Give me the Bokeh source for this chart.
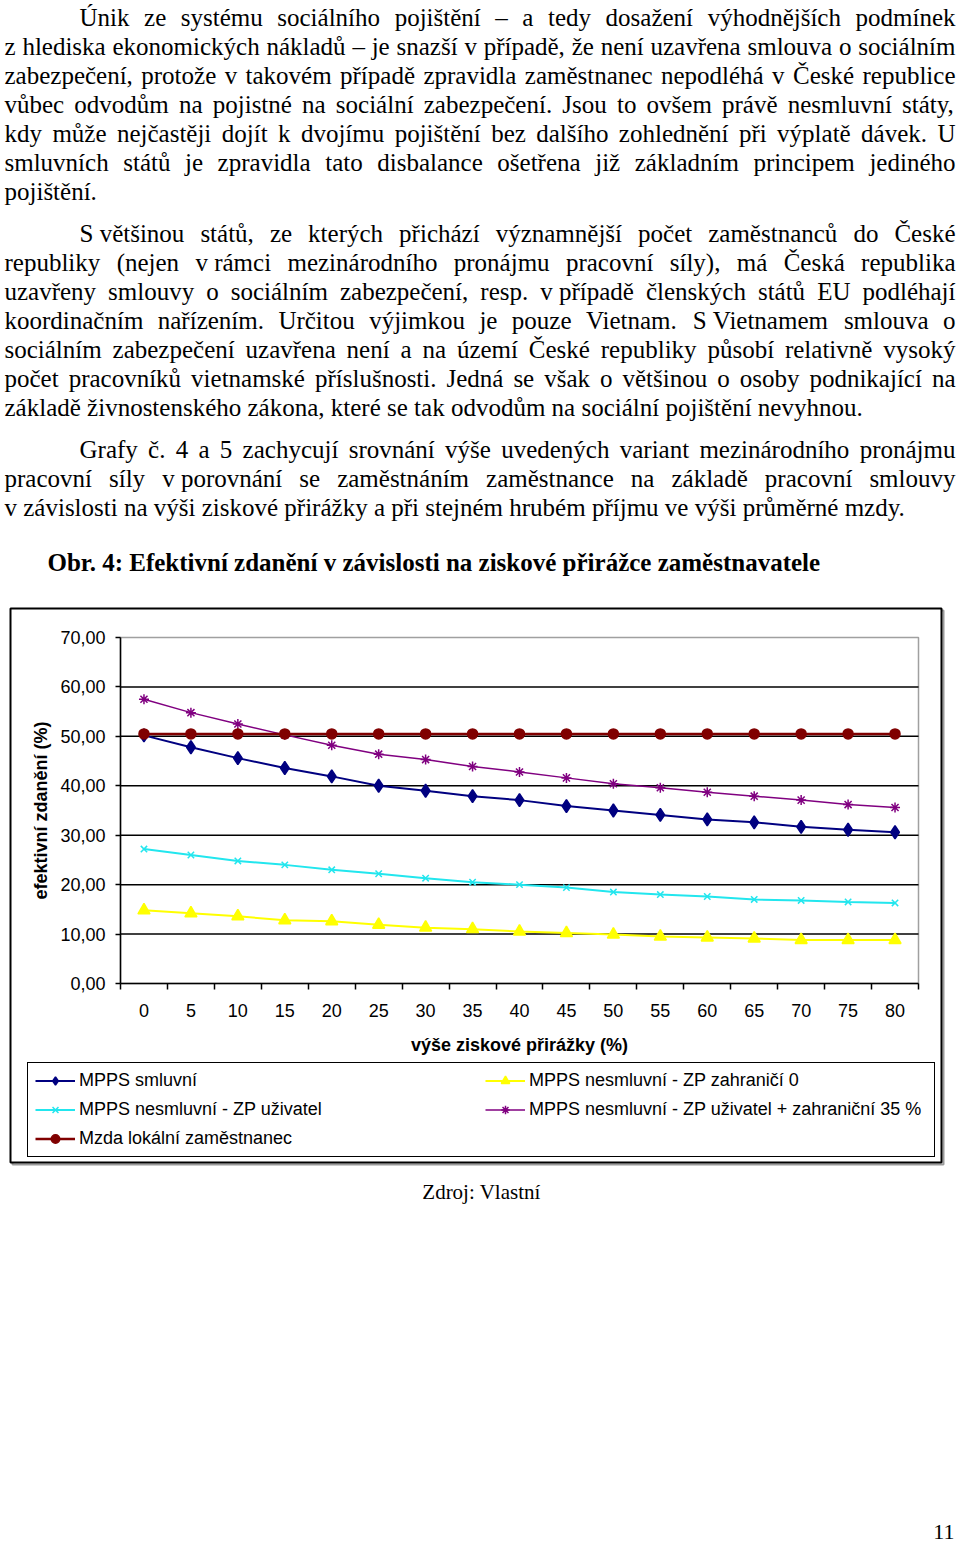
import unicodedata
from bokeh.plotting import figure
from bokeh.models import (ColumnDataSource, LabelSet, Label, Legend, LegendItem, FixedTicker,
                          Range1d, LinearAxis, BoxAnnotation)
from bokeh.embed import file_html
from bokeh.resources import INLINE
from bokeh.core.properties import value

# ---------------- data ----------------
margin_pct = [0, 5, 10, 15, 20, 25, 30, 35, 40, 45, 50, 55, 60, 65, 70, 75, 80]
y_ticks = [0, 10, 20, 30, 40, 50, 60, 70]
y_tick_labels = ["0,00", "10,00", "20,00", "30,00", "40,00", "50,00", "60,00", "70,00"]

mpps_smluvni = [50.2, 47.8, 45.6, 43.6, 41.9, 40.0, 39.0, 37.9, 37.1, 35.9, 35.0, 34.1, 33.2, 32.6, 31.7, 31.1, 30.6]
mpps_zahranici0 = [14.8, 14.2, 13.6, 12.8, 12.6, 11.9, 11.3, 11.0, 10.5, 10.2, 9.9, 9.5, 9.3, 9.1, 8.8, 8.8, 8.8]
mpps_uzivatel = [27.2, 26.0, 24.8, 24.0, 23.0, 22.2, 21.3, 20.5, 20.0, 19.4, 18.5, 18.0, 17.6, 17.0, 16.8, 16.5, 16.3]
mpps_uzivatel_35 = [57.5, 54.8, 52.5, 50.3, 48.2, 46.4, 45.3, 43.9, 42.8, 41.6, 40.4, 39.6, 38.7, 37.9, 37.1, 36.2, 35.6]
mzda_lokalni = [50.5, 50.5, 50.5, 50.5, 50.5, 50.5, 50.5, 50.5, 50.5, 50.5, 50.5, 50.5, 50.5, 50.5, 50.5, 50.5, 50.5]

series_names = ["MPPS smluvní", "MPPS nesmluvní - ZP zahraničí 0", "MPPS nesmluvní - ZP uživatel",
                "MPPS nesmluvní - ZP uživatel + zahraniční 35 %", "Mzda lokální zaměstnanec"]

x_title = "výše ziskové přirážky (%)"
y_title = "efektivní zdanění (%)"
caption = "Obr. 4: Efektivní zdanění v závislosti na ziskové přirážce zaměstnavatele"
source_note = "Zdroj: Vlastní"
page_no = "11"

NB = "\u00a0"
para1 = [
    "Únik ze systému sociálního pojištění – a tedy dosažení výhodnějších podmínek",
    "z hlediska ekonomických nákladů – je snazší v případě, že není uzavřena smlouva o sociálním",
    "zabezpečení, protože v takovém případě zpravidla zaměstnanec nepodléhá v České republice",
    "vůbec odvodům na pojistné na sociální zabezpečení. Jsou to ovšem právě nesmluvní státy,",
    "kdy může nejčastěji dojít k dvojímu pojištění bez dalšího zohlednění při výplatě dávek. U",
    "smluvních států je zpravidla tato disbalance ošetřena již základním principem jediného",
    "pojištění.",
]
para2 = [
    "S" + NB + "většinou států, ze kterých přichází významnější počet zaměstnanců do České",
    "republiky (nejen v" + NB + "rámci mezinárodního pronájmu pracovní síly), má Česká republika",
    "uzavřeny smlouvy o sociálním zabezpečení, resp. v" + NB + "případě členských států EU podléhají",
    "koordinačním nařízením. Určitou výjimkou je pouze Vietnam. S" + NB + "Vietnamem smlouva o",
    "sociálním zabezpečení uzavřena není a na území České republiky působí relativně vysoký",
    "počet pracovníků vietnamské příslušnosti. Jedná se však o většinou o osoby podnikající na",
    "základě živnostenského zákona, které se tak odvodům na sociální pojištění nevyhnou.",
]
para3 = [
    "Grafy č. 4 a 5 zachycují srovnání výše uvedených variant mezinárodního pronájmu",
    "pracovní síly v" + NB + "porovnání se zaměstnáním zaměstnance na základě pracovní smlouvy",
    "v" + NB + "závislosti na výši ziskové přirážky a při stejném hrubém příjmu ve výši průměrné mzdy.",
]

# ---------------- page geometry (page pixels) ----------------
W, H = 960, 1545
BOX_L, BOX_R, BOX_T, BOX_B = 10, 941, 608, 1162   # chart box
FL, FR, FT, FB = 120, 918, 637, 983               # plot area
XR = (-2.5, 82.5)
YR = (0, 70)

# Times New Roman advance widths (em), used to justify the lines
TW = {' ': 0.25, NB: 0.25, '–': 0.5, '-': 0.333, '.': 0.25, ',': 0.25, ':': 0.278, ';': 0.278,
      '(': 0.333, ')': 0.333, '%': 0.833,
      'a': 0.444, 'b': 0.5, 'c': 0.444, 'd': 0.5, 'e': 0.444, 'f': 0.333, 'g': 0.5, 'h': 0.5,
      'i': 0.278, 'j': 0.278, 'k': 0.5, 'l': 0.278, 'm': 0.778, 'n': 0.5, 'o': 0.5, 'p': 0.5,
      'q': 0.5, 'r': 0.333, 's': 0.389, 't': 0.278, 'u': 0.5, 'v': 0.5, 'w': 0.722, 'x': 0.5,
      'y': 0.5, 'z': 0.444,
      'A': 0.722, 'B': 0.667, 'C': 0.667, 'D': 0.722, 'E': 0.611, 'F': 0.556, 'G': 0.722,
      'H': 0.722, 'I': 0.333, 'J': 0.389, 'K': 0.722, 'L': 0.611, 'M': 0.889, 'N': 0.722,
      'O': 0.722, 'P': 0.556, 'Q': 0.722, 'R': 0.667, 'S': 0.556, 'T': 0.611, 'U': 0.722,
      'V': 0.722, 'W': 0.944, 'X': 0.722, 'Y': 0.722, 'Z': 0.611}


def em_width(s):
    w = 0.0
    for ch in s:
        if ch in TW:
            w += TW[ch]
        elif ch.isdigit():
            w += 0.5
        else:
            base = unicodedata.normalize("NFD", ch)[0]
            w += TW.get(base, 0.5)
    return w


FS = 25
TEXT_L, TEXT_R, INDENT = 4, 955, 79
PITCH = 29

words_x, words_y, words_t = [], [], []


def layout(lines, base0):
    for i, line in enumerate(lines):
        left = INDENT if i == 0 else TEXT_L
        toks = line.split(" ")
        widths = [em_width(t) * FS for t in toks]
        if i < len(lines) - 1 and len(toks) > 1:
            gap = (TEXT_R - left - sum(widths)) / (len(toks) - 1)
        else:
            gap = 0.25 * FS
        xx = left
        yb = base0 + i * PITCH
        for t, w in zip(toks, widths):
            words_x.append(xx)
            words_y.append(yb)
            words_t.append(t)
            xx += w + gap


layout(para1, 25)
layout(para2, 241)
layout(para3, 457)

# ---------------- figure: page pixels + chart ranges ----------------
p = figure(width=W, height=H, x_range=Range1d(0, W), y_range=Range1d(H, 0),
           x_axis_type=None, y_axis_type=None, min_border=0,
           output_backend="svg", toolbar_location=None)
p.outline_line_color = None
p.background_fill_color = "white"
p.border_fill_color = "white"

kx = (XR[1] - XR[0]) / (FR - FL)
ky = (YR[1] - YR[0]) / (FB - FT)
p.extra_x_ranges = {"chart": Range1d(XR[0] - FL * kx, XR[1] + (W - FR) * kx)}
p.extra_y_ranges = {"chart": Range1d(YR[0] - (H - FB) * ky, YR[1] + FT * ky)}
CH = dict(x_range_name="chart", y_range_name="chart")

# body text
txt_src = ColumnDataSource(dict(x=words_x, y=words_y, text=words_t))
p.add_layout(LabelSet(x="x", y="y", text="text", source=txt_src,
                      text_font=value("Liberation Serif"), text_font_size="25px",
                      text_color="black", text_align="left", text_baseline="alphabetic"))
p.add_layout(Label(x=47, y=562, text=caption, text_font="Liberation Serif",
                   text_font_size="25px", text_font_style="bold", text_color="black",
                   text_baseline="alphabetic"))
p.add_layout(Label(x=481, y=1191, text=source_note, text_font="Liberation Serif",
                   text_font_size="21px", text_color="black", text_align="center",
                   text_baseline="alphabetic"))
p.add_layout(Label(x=954, y=1531, text=page_no, text_font="Liberation Serif",
                   text_font_size="22px", text_color="black", text_align="right",
                   text_baseline="alphabetic"))

# chart box (with a light shadow)
p.add_layout(BoxAnnotation(left=BOX_L + 2, right=BOX_R + 2, top=BOX_T + 2, bottom=BOX_B + 2,
                           fill_alpha=0, line_color="#9a9a9a", line_alpha=1, line_width=2,
                           level="underlay"))
p.add_layout(BoxAnnotation(left=BOX_L, right=BOX_R, top=BOX_T, bottom=BOX_B,
                           fill_color="white", fill_alpha=1, line_color="black", line_alpha=1,
                           line_width=2, level="underlay"))
# plot-area border (grey)
p.add_layout(BoxAnnotation(left=XR[0], right=XR[1], bottom=YR[0], top=YR[1], fill_alpha=0,
                           line_color="#a0a0a0", line_alpha=1, line_width=1.5,
                           level="underlay", **CH))

# grid lines
grid_src = ColumnDataSource(dict(y=y_ticks[1:-1]))
p.segment(x0=XR[0], x1=XR[1], y0="y", y1="y", source=grid_src, line_color="black",
          line_width=1.5, **CH)

# axes at the plot area edges
boundaries = [m - 2.5 for m in margin_pct] + [margin_pct[-1] + 2.5]
xaxis = LinearAxis(ticker=FixedTicker(ticks=margin_pct, minor_ticks=boundaries),
                   fixed_location=YR[0], bounds=XR, axis_label=x_title, **CH)
xaxis.major_tick_out = 0
xaxis.major_tick_in = 0
xaxis.minor_tick_out = 6
xaxis.minor_tick_in = 0
xaxis.minor_tick_line_color = "black"
xaxis.minor_tick_line_width = 1.5
xaxis.major_label_standoff = 14
xaxis.axis_label_standoff = 15

yaxis = LinearAxis(ticker=FixedTicker(ticks=y_ticks, minor_ticks=[]),
                   fixed_location=XR[0], bounds=YR, axis_label=y_title, **CH)
yaxis.major_label_overrides = {t: s for t, s in zip(y_ticks, y_tick_labels)}
yaxis.major_tick_out = 5
yaxis.major_tick_in = 0
yaxis.minor_tick_out = 0
yaxis.minor_tick_in = 0
yaxis.major_label_standoff = 10
yaxis.axis_label_standoff = 6

for ax in (xaxis, yaxis):
    ax.axis_line_color = "black"
    ax.axis_line_width = 1.5
    ax.major_tick_line_color = "black"
    ax.major_tick_line_width = 1.5
    ax.major_label_text_font = "Liberation Sans"
    ax.major_label_text_font_size = "18px"
    ax.major_label_text_color = "black"
    ax.axis_label_text_font = "Liberation Sans"
    ax.axis_label_text_font_size = "18px"
    ax.axis_label_text_font_style = "bold"
    ax.axis_label_text_color = "black"
p.add_layout(xaxis, "below")
p.add_layout(yaxis, "left")

# series
styles = [
    dict(data=mpps_smluvni, color="#000080", marker="diamond", size=13, lw=2),
    dict(data=mpps_zahranici0, color="#FFFF00", marker="triangle", size=12, lw=2),
    dict(data=mpps_uzivatel, color="#22E6EE", marker="x", size=9, lw=2),
    dict(data=mpps_uzivatel_35, color="#800080", marker="asterisk", size=10, lw=1.5),
    dict(data=mzda_lokalni, color="#800000", marker="circle", size=10, lw=2.5),
]
items = []
for name, st in zip(series_names, styles):
    src = ColumnDataSource(dict(x=margin_pct, y=st["data"]))
    rl = p.line("x", "y", source=src, line_color=st["color"], line_width=st["lw"], **CH)
    rm = p.scatter("x", "y", source=src, marker=st["marker"], size=st["size"],
                   fill_color=st["color"], line_color=st["color"], line_width=1.5, **CH)
    items.append(LegendItem(label=name, renderers=[rl, rm]))

# legend box: 3 rows of 21 px, 8 px apart, 7 px padding -> 93 px tall
LEG_L, LEG_T, LEG_H = 27, 1064, 93
legend = Legend(items=[items[0], items[2], items[4], items[1], items[3]],
                orientation="vertical", nrows=3, location=(LEG_L, H - LEG_T - LEG_H),
                padding=7, margin=0, spacing=8,
                glyph_width=40, glyph_height=21, label_height=21, label_width=398,
                label_standoff=4, label_text_font="Liberation Sans",
                label_text_font_size="18px", label_text_color="black",
                border_line_color="black", border_line_width=1.5, border_line_alpha=1,
                background_fill_color="white", background_fill_alpha=1)
p.add_layout(legend)

open("out.html", "w").write(file_html(p, INLINE))
